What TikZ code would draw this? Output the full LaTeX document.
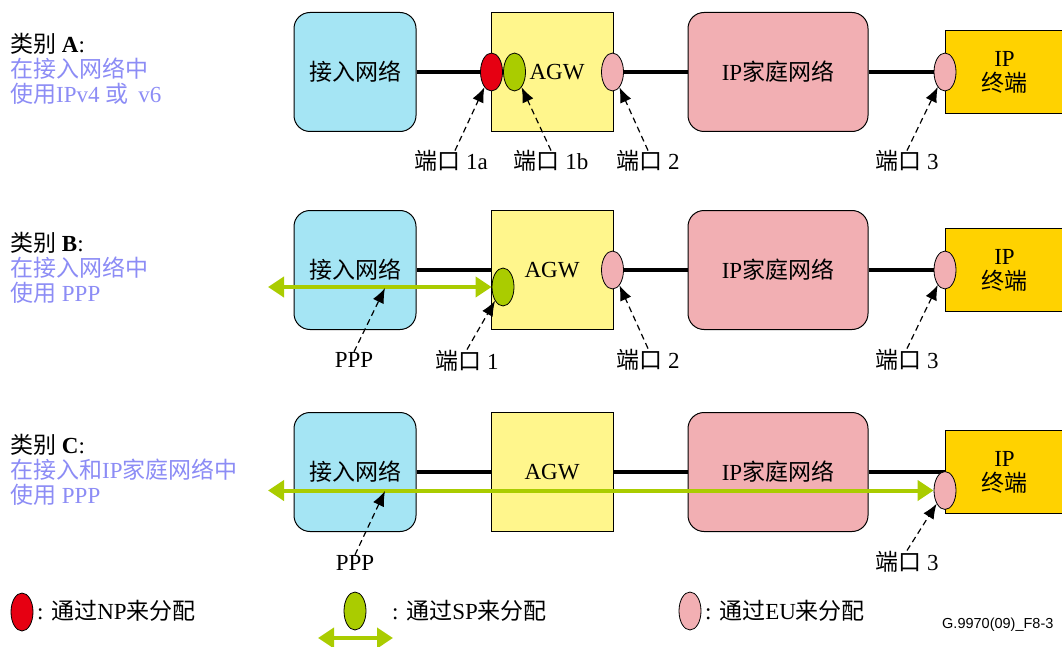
\documentclass[tikz,border=0pt]{standalone}
\usepackage{fontspec}
\setmainfont{Liberation Serif}
\newfontfamily\cjk{Noto Sans CJK SC}
\newfontfamily\codefont{Liberation Sans}
\usetikzlibrary{shapes,arrows,arrows.meta,positioning}
\newcommand{\zh}[1]{{\cjk #1}}
\definecolor{accfill}{HTML}{A5E5F4}
\definecolor{agwfill}{HTML}{FFF68C}
\definecolor{homefill}{HTML}{F2AFB3}
\definecolor{termfill}{HTML}{FFD200}
\definecolor{npred}{HTML}{E60012}
\definecolor{spgreen}{HTML}{AACC00}
\definecolor{noteblue}{HTML}{8C8CF5}
\tikzstyle{every node}=[font=\fontsize{23}{25}\selectfont]
\tikzstyle{netbox} = [rectangle, draw, line width=1pt, minimum width=122pt,
    minimum height=119pt, inner sep=0pt]
\tikzstyle{access} = [netbox, rounded corners=16pt, fill=accfill]
\tikzstyle{agw} = [netbox, fill=agwfill]
\tikzstyle{home} = [netbox, rounded corners=16pt, fill=homefill, minimum width=180pt]
\tikzstyle{terminal} = [netbox, fill=termfill, minimum width=119pt, minimum height=83pt, align=center]
\tikzstyle{port} = [ellipse, draw, line width=0.8pt, minimum width=22pt, minimum height=38pt, inner sep=0pt]
\tikzstyle{link} = [draw, line width=3.5pt]
\tikzstyle{pointer} = [draw, line width=1.2pt, dash pattern=on 6pt off 4pt, -{Latex[length=15pt,width=12pt]}]
\tikzstyle{ppp} = [draw, spgreen, line width=4pt, {Triangle[length=16pt,width=20pt]}-{Triangle[length=16pt,width=20pt]}]
\tikzstyle{cat} = [anchor=base west, inner sep=0pt]
\tikzstyle{note} = [cat, text=noteblue]
\tikzstyle{tag} = [anchor=base, inner sep=0pt]

\begin{document}
\begin{tikzpicture}[x=1pt, y=-1pt]
	\useasboundingbox (0,0) rectangle (1062,647);
	% Category A
	\node [cat] (catA) at (10,53) {\zh{类别} \textbf{A}:};
	\node [note] (noteA1) at (10,78) {\zh{在接入网络中}};
	\node [note] (noteA2) at (10,103) {\zh{使用}IPv4 \zh{或}\hspace{10pt}v6};
	\node [access] (accA) at (355,72) {\zh{接入网络}};
	\node [agw, label={[xshift=5pt]center:AGW}] (agwA) at (552,72) {};
	\node [home] (homeA) at (778,72) {IP\zh{家庭网络}};
	\node [terminal] (termA) at (1004.5,72) {IP\\\zh{终端}};
	\node [port, fill=npred] (p1a) at (491.5,72) {};
	\node [port, fill=spgreen] (p1b) at (514.5,72) {};
	\node [port, fill=homefill] (p2A) at (612.5,72) {};
	\node [port, fill=homefill] (p3A) at (945,72) {};
	\node [tag] (lab1a) at (451,170) {\zh{端口} 1a};
	\node [tag] (lab1b) at (551,170) {\zh{端口} 1b};
	\node [tag] (lab2A) at (648,170) {\zh{端口} 2};
	\node [tag] (lab3A) at (907,170) {\zh{端口} 3};
	\path [link] (accA) -- (p1a);
	\path [link] (p2A) -- (homeA);
	\path [link] (homeA) -- (p3A);
	\path [pointer] ([xshift=4pt]lab1a.north) -- (p1a);
	\path [pointer] (lab1b.north) -- (p1b);
	\path [pointer] (lab2A.north) -- (p2A);
	\path [pointer] (lab3A.north) -- (p3A);

	% Category B
	\node [cat] (catB) at (10,251) {\zh{类别} \textbf{B}:};
	\node [note] (noteB1) at (10,276) {\zh{在接入网络中}};
	\node [note] (noteB2) at (10,301) {\zh{使用} PPP};
	\node [access] (accB) at (355,270) {\zh{接入网络}};
	\node [agw] (agwB) at (552,270) {AGW};
	\node [home] (homeB) at (778,270) {IP\zh{家庭网络}};
	\node [terminal] (termB) at (1004.5,270) {IP\\\zh{终端}};
	\node [port, fill=spgreen] (p1B) at (503,287) {};
	\node [port, fill=homefill] (p2B) at (612.5,270) {};
	\node [port, fill=homefill] (p3B) at (945,270) {};
	\coordinate (pppBleft) at (268,287);
	\coordinate (pppB) at (385,288);
	\node [tag] (labpppB) at (354,367) {PPP};
	\node [tag] (lab1B) at (467,369) {\zh{端口} 1};
	\node [tag] (lab2B) at (648,368) {\zh{端口} 2};
	\node [tag] (lab3B) at (907,368) {\zh{端口} 3};
	\path [link] (accB) -- (agwB);
	\path [link] (p2B) -- (homeB);
	\path [link] (homeB) -- (p3B);
	\path [ppp] (pppBleft) -- (p1B.west);
	\path [pointer] (labpppB.north) -- (pppB);
	\path [pointer] (lab1B.north) -- (p1B);
	\path [pointer] (lab2B.north) -- (p2B);
	\path [pointer] (lab3B.north) -- (p3B);

	% Category C
	\node [cat] (catC) at (10,453) {\zh{类别} \textbf{C}:};
	\node [note] (noteC1) at (10,478) {\zh{在接入和}IP\zh{家庭网络中}};
	\node [note] (noteC2) at (10,503) {\zh{使用} PPP};
	\node [access] (accC) at (355,472) {\zh{接入网络}};
	\node [agw] (agwC) at (552,472) {AGW};
	\node [home] (homeC) at (778,472) {IP\zh{家庭网络}};
	\node [terminal] (termC) at (1004.5,472) {IP\\\zh{终端}};
	\path [link] (accC) -- (agwC);
	\path [link] (agwC) -- (homeC);
	\path [link] (homeC) -- (termC);
	\node [port, fill=homefill] (p3C) at (945,490.5) {};
	\coordinate (pppCleft) at (268,490.5);
	\coordinate (pppC) at (385,491);
	\node [tag] (labpppC) at (355,570) {PPP};
	\node [tag] (lab3C) at (907,570) {\zh{端口} 3};
	\path [ppp] (pppCleft) -- (p3C.west);
	\path [pointer] (labpppC.north) -- (pppC);
	\path [pointer] (lab3C.north) -- (p3C);

	% Legend
	\node [port, fill=npred] (keyNP) at (22,612) {};
	\node [cat] (keyNPtext) at (37,619) {: \zh{通过}NP\zh{来分配}};
	\node [port, fill=spgreen] (keySP) at (355,611) {};
	\node [cat] (keySPtext) at (392,619) {: \zh{通过}SP\zh{来分配}};
	\coordinate (keyL) at (318,638);
	\coordinate (keyR) at (393,638);
	\path [ppp] (keyL) -- (keyR);
	\node [port, fill=homefill] (keyEU) at (690,611) {};
	\node [cat] (keyEUtext) at (705,619) {: \zh{通过}EU\zh{来分配}};
	\node [cat, font=\codefont\fontsize{14.5}{17}\selectfont] (figid) at (942,628) {G.9970(09)\_F8-3};
\end{tikzpicture}
\end{document}
